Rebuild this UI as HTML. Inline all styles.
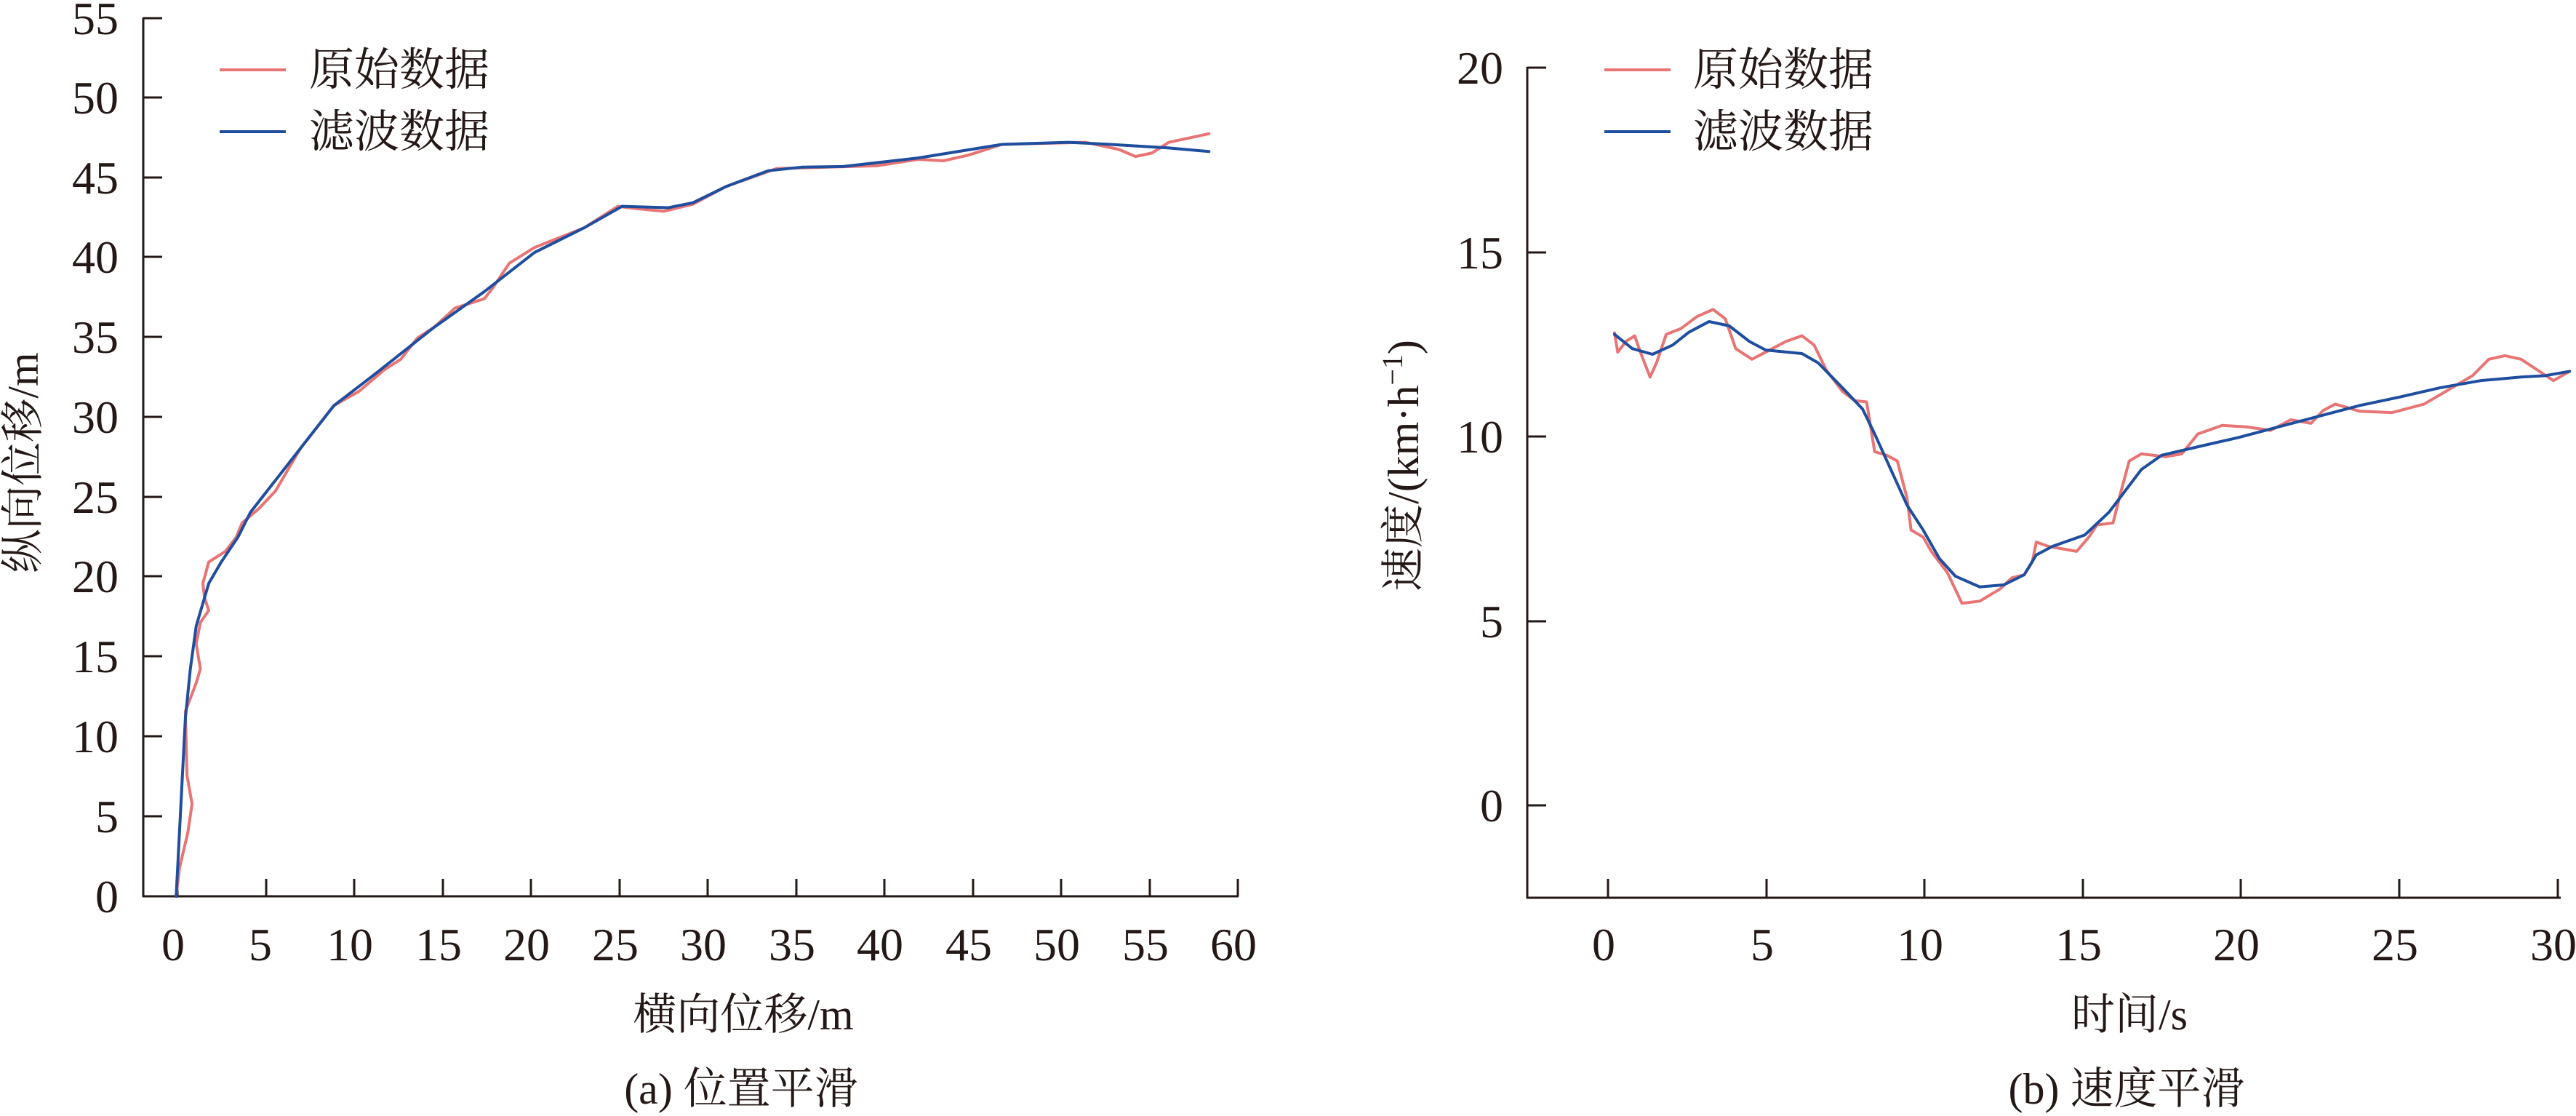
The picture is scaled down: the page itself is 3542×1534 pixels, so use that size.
<!DOCTYPE html>
<html><head><meta charset="utf-8"><style>
html,body{margin:0;padding:0;background:#fff;}
svg{display:block;}
text{font-family:"Liberation Serif","Noto Serif CJK SC",serif;fill:#231815;}
</style></head><body>
<svg width="3542" height="1534" viewBox="0 0 3542 1534" xmlns="http://www.w3.org/2000/svg">
<!-- LEFT CHART -->
<g stroke="#231815" stroke-width="3" fill="none">
<line x1="197" y1="24" x2="197" y2="1233"/>
<line x1="196" y1="1232" x2="1703" y2="1232"/>
<path d="M197 1232h26M197 1122h26M197 1012h26M197 902h26M197 792h26M197 683h26M197 573h26M197 463h26M197 353h26M197 244h26M197 134h26M197 25h26"/>
<path d="M244 1232v-24M366 1232v-24M487 1232v-24M609 1232v-24M730 1232v-24M852 1232v-24M973 1232v-24M1095 1232v-24M1216 1232v-24M1338 1232v-24M1459 1232v-24M1581 1232v-24M1702 1232v-24"/>
</g>
<g font-size="64" text-anchor="end">
<text x="163" y="1254">0</text><text x="163" y="1144">5</text><text x="163" y="1034">10</text><text x="163" y="924">15</text><text x="163" y="814">20</text><text x="163" y="705">25</text><text x="163" y="595">30</text><text x="163" y="485">35</text><text x="163" y="375">40</text><text x="163" y="266">45</text><text x="163" y="156">50</text><text x="163" y="47">55</text>
</g>
<g font-size="64" text-anchor="middle">
<text x="238" y="1320">0</text><text x="358" y="1320">5</text><text x="481" y="1320">10</text><text x="603" y="1320">15</text><text x="724" y="1320">20</text><text x="846" y="1320">25</text><text x="967" y="1320">30</text><text x="1089" y="1320">35</text><text x="1210" y="1320">40</text><text x="1332" y="1320">45</text><text x="1453" y="1320">50</text><text x="1575" y="1320">55</text><text x="1696" y="1320">60</text>
</g>
<text x="1022" y="1415" font-size="60" text-anchor="middle">横向位移/m</text>
<text x="1019" y="1517" font-size="60" text-anchor="middle">(a) 位置平滑</text>
<text transform="translate(52,636) rotate(-90)" font-size="60" text-anchor="middle">纵向位移/m</text>
<line x1="302" y1="96" x2="393" y2="96" stroke="#e87474" stroke-width="4"/>
<line x1="302" y1="181" x2="393" y2="181" stroke="#1f4e9f" stroke-width="4"/>
<text x="425" y="117" font-size="62">原始数据</text>
<text x="425" y="202" font-size="62">滤波数据</text>
<g transform="matrix(1.1480 0 0 0.9779 0 0)" fill="none" stroke-width="4" stroke-linejoin="round" stroke-linecap="round">
<polyline vector-effect="non-scaling-stroke" stroke="#e87474" points="211,1260 215,1220 225,1170 230,1130 224,1090 222,1000 235,960 240,940 235,905 240,875 250,858 245,840 243,820 250,790 270,775 283,755 290,735 310,715 330,690 360,630 400,570 430,550 460,520 480,505 500,475 520,460 545,433 580,420 590,405 610,370 640,348 700,320 740,290 760,293 795,297 830,287 870,262 930,237 1050,233 1100,224 1130,226 1160,218 1200,203 1300,200 1340,210 1360,220 1380,215 1400,200 1448,188"/>
<polyline vector-effect="non-scaling-stroke" stroke="#1f4e9f" points="211,1260 222,1010 228,940 235,880 250,820 265,790 285,755 300,720 340,660 400,570 450,525 520,460 580,410 640,355 700,320 745,290 800,292 830,285 870,262 920,240 960,235 1010,234 1100,222 1200,203 1280,200 1330,203 1400,208 1448,213"/>
</g>
<!-- RIGHT CHART -->
<g stroke="#231815" stroke-width="3" fill="none">
<line x1="2100" y1="92" x2="2100" y2="1235"/>
<line x1="2099" y1="1234" x2="3521" y2="1234"/>
<path d="M2100 1107h26M2100 854h26M2100 600h26M2100 347h26M2100 93h26"/>
<path d="M2211 1234v-26M2429 1234v-26M2646 1234v-26M2864 1234v-26M3081 1234v-26M3299 1234v-26M3517 1234v-26"/>
</g>
<g font-size="64" text-anchor="end">
<text x="2067" y="1129">0</text><text x="2067" y="876">5</text><text x="2067" y="622">10</text><text x="2067" y="369">15</text><text x="2067" y="115">20</text>
</g>
<g font-size="64" text-anchor="middle">
<text x="2205" y="1320">0</text><text x="2423" y="1320">5</text><text x="2640" y="1320">10</text><text x="2858" y="1320">15</text><text x="3075" y="1320">20</text><text x="3293" y="1320">25</text><text x="3511" y="1320">30</text>
</g>
<text x="2928" y="1415" font-size="60" text-anchor="middle">时间/s</text>
<text x="2924" y="1517" font-size="60" text-anchor="middle">(b) 速度平滑</text>
<text transform="translate(1950,640) rotate(-90)" font-size="60" text-anchor="middle">速度/(km·h<tspan font-size="40" dy="-22">−1</tspan><tspan dy="22">)</tspan></text>
<line x1="2206" y1="96" x2="2297" y2="96" stroke="#e87474" stroke-width="4"/>
<line x1="2206" y1="181" x2="2297" y2="181" stroke="#1f4e9f" stroke-width="4"/>
<text x="2328" y="117" font-size="62">原始数据</text>
<text x="2328" y="202" font-size="62">滤波数据</text>
<g transform="matrix(1.1110 0 0 0.9779 1800 0)" fill="none" stroke-width="4" stroke-linejoin="round" stroke-linecap="round">
<polyline vector-effect="non-scaling-stroke" stroke="#e87474" points="378,468 382,495 392,480 403,472 410,495 422,530 430,510 442,470 460,462 480,445 500,435 515,448 528,490 548,505 565,495 590,480 610,472 625,485 640,520 660,550 675,563 690,565 695,600 700,635 715,640 728,648 740,700 745,745 760,755 770,775 790,805 808,848 830,845 855,828 870,812 885,808 895,790 900,762 915,768 950,775 965,755 975,738 995,735 1005,690 1015,648 1030,638 1060,642 1080,638 1100,610 1130,598 1160,600 1190,605 1215,590 1240,595 1255,577 1270,568 1300,578 1340,580 1380,568 1410,548 1440,528 1460,505 1480,500 1500,505 1520,520 1540,535 1560,522"/>
<polyline vector-effect="non-scaling-stroke" stroke="#1f4e9f" points="378,470 400,490 425,498 450,485 470,467 495,452 520,458 545,480 565,492 610,497 630,510 660,545 685,575 700,610 720,660 740,710 760,745 780,785 800,810 830,825 860,822 885,808 900,780 920,768 960,752 990,720 1010,690 1030,660 1055,640 1100,628 1150,615 1200,600 1250,585 1300,570 1350,558 1400,545 1450,535 1500,530 1530,528 1560,522"/>
</g>
</svg>
</body></html>
